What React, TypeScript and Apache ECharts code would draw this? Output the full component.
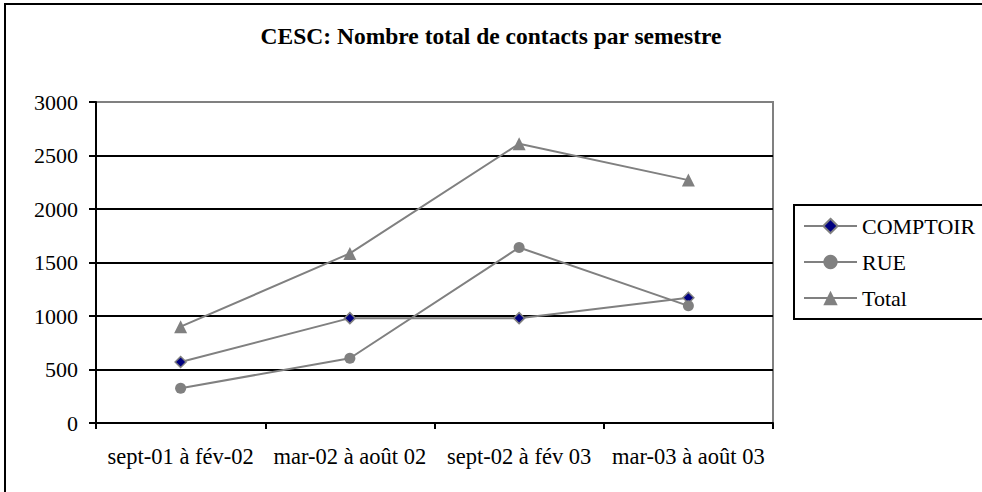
import React, { useEffect, useRef } from "react";
import * as echarts from "echarts";

const categories = ["sept-01 à fév-02", "mar-02 à août 02", "sept-02 à fév 03", "mar-03 à août 03"];
const comptoir = [570, 980, 980, 1170];
const rue = [325, 605, 1640, 1095];
const total = [900, 1585, 2610, 2270];
const yTicks = { min: 0, max: 3000, interval: 500 };

const FONT = "'Liberation Serif', 'Times New Roman', serif";
const GRAY = "#808080";

export default function App() {
  const ref = useRef<HTMLDivElement>(null);
  useEffect(() => {
    if (!ref.current) return;
    const chart = echarts.init(ref.current, undefined, { renderer: "svg" });
    chart.setOption({
      animation: false,
      backgroundColor: "#ffffff",
      title: {
        text: "CESC: Nombre total de contacts par semestre",
        left: "center",
        top: 24,
        padding: [0, 0, 0, 18],
        textStyle: { fontFamily: FONT, fontWeight: "bold", fontSize: 23.5, color: "#000" },
      },
      graphic: [
        {
          type: "rect",
          shape: { x: 5, y: 4, width: 1000, height: 520 },
          style: { fill: "none", stroke: "#000", lineWidth: 2 },
          z: 0,
          silent: true,
        },
      ],
      legend: {
        orient: "vertical",
        left: 794,
        top: 205,
        padding: [10, 40, 10, 9],
        itemGap: 14,
        itemWidth: 53,
        itemHeight: 18,
        borderColor: "#000",
        borderWidth: 2,
        backgroundColor: "#fff",
        textStyle: { fontFamily: FONT, fontSize: 22, color: "#000" },
        data: ["COMPTOIR", "RUE", "Total"],
      },
      grid: {
        left: 96,
        right: 209,
        top: 102,
        bottom: 69,
        show: true,
        borderColor: GRAY,
        borderWidth: 2,
        outerBoundsMode: "none",
      },
      xAxis: {
        type: "category",
        data: categories,
        boundaryGap: true,
        axisLine: { lineStyle: { color: "#000", width: 2 } },
        axisTick: { show: true, inside: false, length: 6, lineStyle: { color: "#000", width: 2 } },
        axisLabel: { fontFamily: FONT, fontSize: 22.5, color: "#000", margin: 22, interval: 0 },
        splitLine: { show: false },
      },
      yAxis: {
        type: "value",
        min: yTicks.min,
        max: yTicks.max,
        interval: yTicks.interval,
        axisLine: { show: true, lineStyle: { color: "#000", width: 2 } },
        axisTick: { show: true, inside: false, length: 7, lineStyle: { color: "#000", width: 2 } },
        axisLabel: {
          fontFamily: FONT,
          fontSize: 22,
          color: "#000",
          margin: 18,
          formatter: (v: number) => String(v),
        },
        splitLine: {
          show: true,
          lineStyle: { color: ["#000", "#000", "#000", "#000", "#000", "#000", GRAY], width: 2 },
        },
      },
      series: [
        {
          name: "COMPTOIR",
          type: "line",
          data: comptoir,
          symbol: "diamond",
          symbolSize: 11,
          lineStyle: { color: GRAY, width: 2 },
          itemStyle: { color: "#000080", borderColor: GRAY, borderWidth: 1.5 },
        },
        {
          name: "RUE",
          type: "line",
          data: rue,
          symbol: "circle",
          symbolSize: 11,
          lineStyle: { color: GRAY, width: 2 },
          itemStyle: { color: GRAY, borderColor: GRAY, borderWidth: 0 },
        },
        {
          name: "Total",
          type: "line",
          data: total,
          symbol: "triangle",
          symbolSize: 13,
          lineStyle: { color: GRAY, width: 2 },
          itemStyle: { color: GRAY, borderColor: GRAY, borderWidth: 0 },
        },
      ],
    });
    return () => chart.dispose();
  }, []);
  return (
    <div
      ref={ref}
      style={{ position: "fixed", left: 0, top: 0, width: 982, height: 492 }}
    />
  );
}
